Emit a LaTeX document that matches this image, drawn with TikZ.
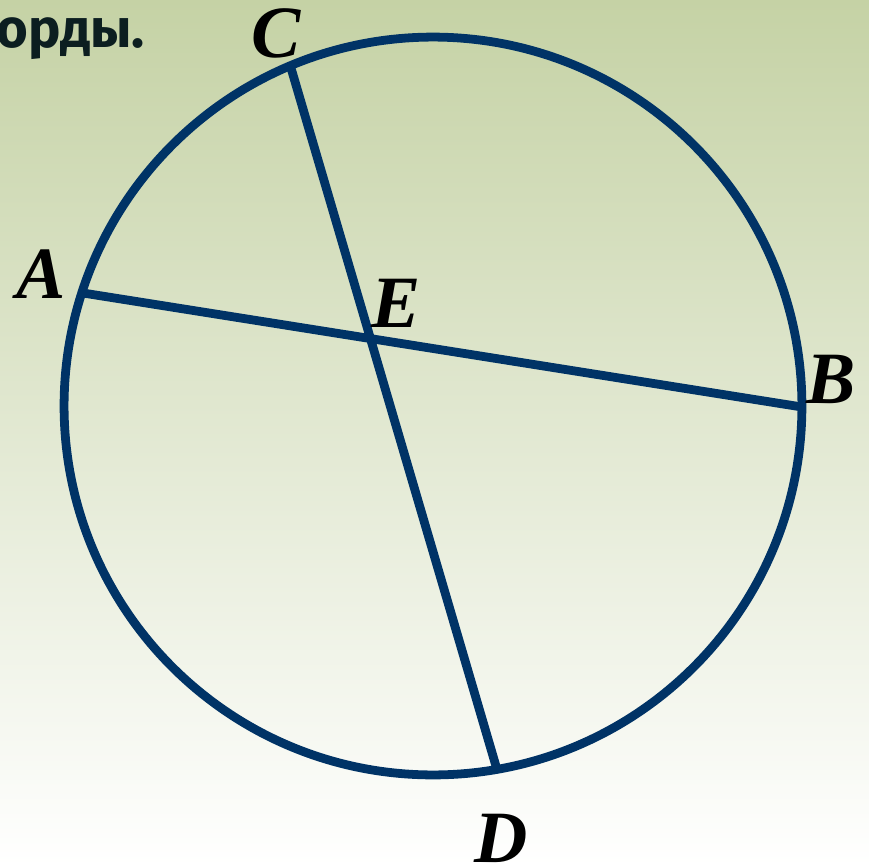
\documentclass[tikz,border=0pt]{standalone}
\usepackage{fontspec}
\setmainfont{Liberation Serif}
\newfontfamily\headfont{Fira Sans}
\definecolor{chordblue}{RGB}{0,51,102}
\definecolor{bgtop}{RGB}{197,210,165}
\definecolor{bgmid}{RGB}{234,239,225}
\definecolor{headtext}{RGB}{12,30,32}
\tikzset{chord/.style={line width=5pt, draw=chordblue},
  ptlabel/.style={font=\fontsize{42}{42}\selectfont\bfseries\itshape, inner sep=0pt, anchor=base}}

\begin{document}
\begin{tikzpicture}[x=0.02cm,y=-0.02cm]
\shade[top color=bgtop, middle color=bgmid, bottom color=white] (0,0) rectangle (869,866);
\useasboundingbox (0,0) rectangle (869,866);
\node[font=\headfont\bfseries\fontsize{31}{31}\selectfont, text=headtext, anchor=base west, inner sep=0pt] (title) at (-4,47) {орды.};
% circle and chords
\coordinate (O) at (433,406);
\coordinate (A) at (83,293);
\coordinate (B) at (802,407);
\coordinate (C) at (291,68);
\coordinate (D) at (498,773);
\coordinate (E) at (intersection of A--B and C--D);
\draw[chord] (O) circle[radius=7.38cm];
\draw[chord] (A)--(B);
\draw[chord] (C)--(D);
% point labels
\node[ptlabel] (labA) at (41,298) {A};
\node[ptlabel] (labB) at (831,403) {B};
\node[ptlabel] (labC) at (276,57) {C};
\node[ptlabel] (labD) at (501,862) {D};
\node[ptlabel] (labE) at (396,327) {E};
\end{tikzpicture}
\end{document}
